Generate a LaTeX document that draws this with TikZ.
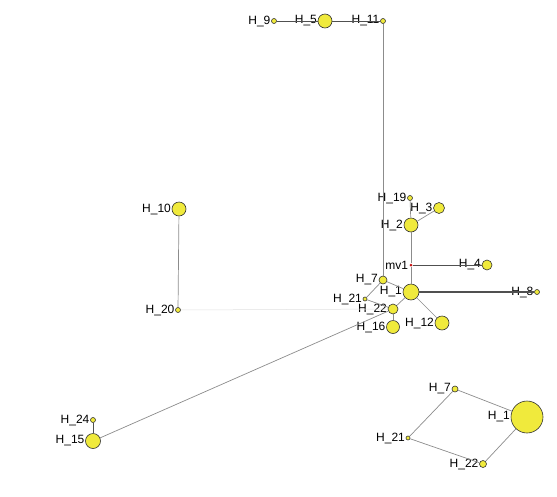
\documentclass[tikz,border=0pt]{standalone}
\usepackage{fontspec}
\setmainfont{Liberation Sans}
\usetikzlibrary{positioning}
\definecolor{HapYellow}{RGB}{240,234,60}
\definecolor{HapGray}{RGB}{140,140,140}
\definecolor{HapDark}{RGB}{80,80,80}
\definecolor{HapRed}{RGB}{200,20,20}

\begin{document}
\begin{tikzpicture}[
x=1pt,y=-1pt,
hap/.style={circle,draw=black!80,fill=HapYellow,inner sep=0pt,line width=0.6pt,
label={[font=\fontsize{12}{13}\selectfont,inner sep=0.6pt]left:#1}},
mv/.style={circle,fill=HapRed,inner sep=0pt,minimum size=3pt,
label={[font=\fontsize{12}{13}\selectfont,inner sep=1pt]left:#1}},
edge/.style={draw=HapGray,line width=0.7pt},
darkedge/.style={draw=HapDark,line width=0.8pt},
faintedge/.style={draw=black!12,line width=0.5pt}
]
\useasboundingbox (0,0) rectangle (557,496);
% main network
\node[hap=H\_9,minimum size=5pt] (h9) at (274,21) {};
\node[hap=H\_5,minimum size=14pt] (h5) at (325,21) {};
\node[hap=H\_11,minimum size=5pt] (h11) at (383,21) {};
\node[hap=H\_19,minimum size=5pt] (h19) at (410,198) {};
\node[hap=H\_3,minimum size=11pt] (h3) at (439,208) {};
\node[hap=H\_2,minimum size=14pt] (h2) at (411,225) {};
\node[mv=mv1] (mv) at (411,265) {};
\node[hap=H\_4,minimum size=10pt] (h4) at (487,265) {};
\node[hap=H\_1,minimum size=16pt] (h1) at (411,292) {};
\node[hap=H\_8,minimum size=5pt] (h8) at (537,292) {};
\node[hap=H\_7,minimum size=8pt] (h7) at (383,280) {};
\node[hap=H\_21,minimum size=4pt] (h21) at (365,299) {};
\node[hap=H\_22,minimum size=10pt] (h22) at (393,309) {};
\node[hap=H\_16,minimum size=13pt] (h16) at (393,327) {};
\node[hap=H\_12,minimum size=14pt] (h12) at (442,323) {};
\node[hap=H\_10,minimum size=14pt] (h10) at (179,209) {};
\node[hap=H\_20,minimum size=5pt] (h20) at (178,310) {};
\node[hap=H\_24,minimum size=5pt] (h24) at (93,420) {};
\node[hap=H\_15,minimum size=15pt] (h15) at (93,441) {};
\draw[darkedge] (h9)--(h5); \draw[darkedge] (h5)--(h11);
\draw[edge] (h11)--(h7);
\draw[edge] (h19)--(h2); \draw[edge] (h3)--(h2);
\draw[edge] (h2)--(mv); \draw[darkedge] (mv)--(h4); \draw[edge] (mv)--(h1);
\draw[darkedge,line width=1.3pt] (h1)--(h8);
\draw[edge] (h7)--(h1); \draw[edge] (h7)--(h21);
\draw[edge] (h21)--(h22); \draw[edge] (h22)--(h1);
\draw[edge] (h22)--(h16); \draw[edge] (h1)--(h12);
\draw[edge] (h15)--(h22);
\draw[faintedge] (h20)--(h22);
\draw[darkedge] (h24)--(h15);
\draw[edge] (h10)--(h20);
% loop inset
\node[hap=H\_7,minimum size=6pt] (i7) at (455,389) {};
\node[hap=H\_1,minimum size=32pt] (i1) at (527,417) {};
\node[hap=H\_21,minimum size=4pt] (i21) at (408,438) {};
\node[hap=H\_22,minimum size=7pt] (i22) at (483,464) {};
\draw[edge] (i7)--(i1); \draw[edge] (i7)--(i21);
\draw[edge] (i21)--(i22); \draw[edge] (i22)--(i1);
\end{tikzpicture}
\end{document}
